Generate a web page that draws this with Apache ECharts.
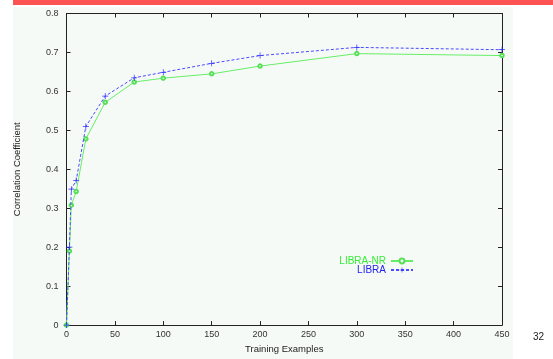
<!DOCTYPE html>
<html><head><meta charset="utf-8">
<script src="https://cdn.jsdelivr.net/npm/echarts@6/dist/echarts.min.js"></script>
<style>html,body{margin:0;padding:0;background:#fff}#c{width:553px;height:359px}</style>
</head><body><div id="c"></div>
<script>
var xValues = [0, 3, 5, 10, 20, 40, 70, 100, 150, 200, 300, 450];
var libraNR = [0, 0.19, 0.308, 0.343, 0.478, 0.572, 0.624, 0.634, 0.645, 0.665, 0.697, 0.692];
var libra   = [0, 0.20, 0.349, 0.371, 0.510, 0.588, 0.635, 0.649, 0.672, 0.692, 0.713, 0.707];
var xTicks = [0, 50, 100, 150, 200, 250, 300, 350, 400, 450];
var yTicks = [0, 0.1, 0.2, 0.3, 0.4, 0.5, 0.6, 0.7, 0.8];

function pairs(xs, ys){ return xs.map(function(x,i){ return [x, ys[i]]; }); }
var font = 'Liberation Sans, Arial, sans-serif';
var chart = echarts.init(document.getElementById('c'));
var axisBase = {
  axisLine:{show:true, onZero:false, lineStyle:{color:'#222', width:1}},
  axisTick:{show:true, inside:true, length:4, lineStyle:{color:'#222'}},
  splitLine:{show:false}
};
chart.setOption({
  animation:false,
  backgroundColor:'#ffffff',
  graphic:[
    {type:'rect', z:-10, silent:true, shape:{x:13, y:7, width:500, height:352}, style:{fill:'#f6faf7'}},
    {type:'rect', z:-9, silent:true, shape:{x:13, y:0, width:540, height:5}, style:{fill:'#ff5252'}},
    {type:'text', left:533, top:332, style:{text:'32', font:'10px ' + font, fill:'#222'}}
  ],
  grid:{left:66.5, right:51, top:13.5, bottom:27.5},
  legend:{
    right:134, top:251, orient:'vertical', align:'right', itemWidth:22, itemHeight:6, itemGap:-1,
    textStyle:{fontFamily:font, fontSize:10},
    data:[
      {name:'LIBRA-NR', textStyle:{color:'#33ee33'}},
      {name:'LIBRA', textStyle:{color:'#2222ee'}}
    ]
  },
  xAxis:[
    Object.assign({}, axisBase, {
      type:'value', min:0, max:450, interval:50, position:'bottom',
      name:'Training Examples', nameLocation:'middle', nameGap:14,
      nameTextStyle:{fontFamily:font, fontSize:9.5, color:'#222'},
      axisLabel:{fontFamily:font, fontSize:9, color:'#333', margin:5,
        formatter:function(v){ return xTicks.indexOf(v) >= 0 ? String(v) : ''; }}
    }),
    Object.assign({}, axisBase, {
      type:'value', min:0, max:450, interval:50, position:'top', axisLabel:{show:false}
    })
  ],
  yAxis:[
    Object.assign({}, axisBase, {
      type:'value', min:0, max:0.8, interval:0.1, position:'left',
      name:'Correlation Coefficient', nameLocation:'middle', nameGap:44,
      nameTextStyle:{fontFamily:font, fontSize:9.5, color:'#222'},
      axisLabel:{fontFamily:font, fontSize:9, color:'#333', margin:8,
        formatter:function(v){
          var r = Math.round(v*10)/10;
          return yTicks.indexOf(r) >= 0 ? (r === 0 ? '0' : r.toFixed(1)) : '';
        }}
    }),
    Object.assign({}, axisBase, {
      type:'value', min:0, max:0.8, interval:0.1, position:'right', axisLabel:{show:false}
    })
  ],
  series:[
    {
      name:'LIBRA-NR', type:'line', data:pairs(xValues, libraNR),
      symbol:'emptyCircle', symbolSize:3.5, showAllSymbol:true,
      lineStyle:{color:'#66ee66', width:1},
      itemStyle:{color:'#55e055', borderColor:'#55e055', borderWidth:1},
      z:3
    },
    {
      name:'LIBRA', type:'line', data:pairs(xValues, libra),
      symbol:'path://M0,4.4H10V5.6H0Z M4.4,0H5.6V10H4.4Z', symbolSize:6, showAllSymbol:true,
      lineStyle:{color:'#4a4aff', width:1, type:[3,2]},
      itemStyle:{color:'#3333ff'},
      z:4
    }
  ]
});
</script></body></html>
